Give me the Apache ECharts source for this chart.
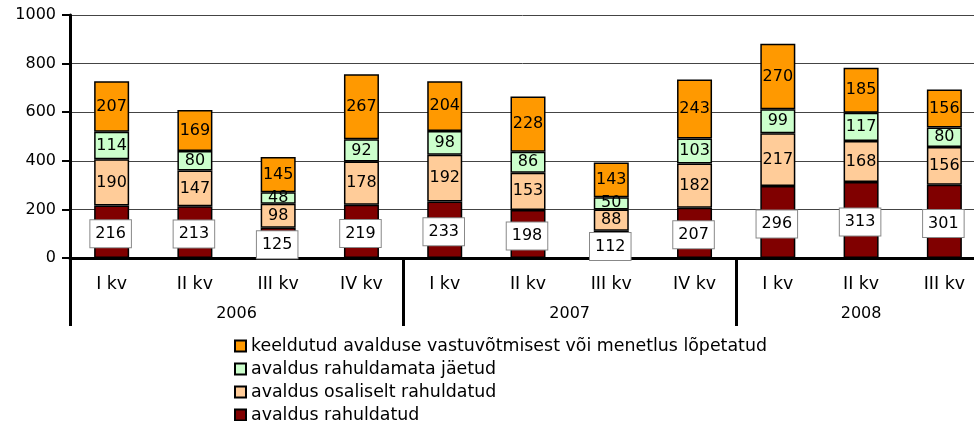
<!DOCTYPE html>
<html>
<head>
<meta charset="utf-8">
<script src="https://cdn.jsdelivr.net/npm/echarts@6/dist/echarts.min.js"></script>
<style>
    html,body{margin:0;padding:0;background:#fff;}
    #chart{width:974px;height:421px;}
</style>
</head>
<body>
<div id="chart"></div>
<script>
// andmed
var quarters = ['I kv','II kv','III kv','IV kv','I kv','II kv','III kv','IV kv','I kv','II kv','III kv'];
var years = ['2006','2007','2008'];
var yearMid = [2, 6, 9.5];
var yearEdge = [0, 4, 8, 11];
var yTicks = [0, 200, 400, 600, 800, 1000];

var rahuldatud = [216,213,125,219,233,198,112,207,296,313,301];
var osaliselt = [190,147,98,178,192,153,88,182,217,168,156];
var rahuldamata = [114,80,48,92,98,86,50,103,99,117,80];
var keeldutud = [207,169,145,267,204,228,143,243,270,185,156];

var names = [
    'avaldus rahuldatud',
    'avaldus osaliselt rahuldatud',
    'avaldus rahuldamata jäetud',
    'keeldutud avalduse vastuvõtmisest või menetlus lõpetatud'
];
var colors = ['#800000','#FFCC99','#CCFFCC','#FF9900'];

var font = 'DejaVu Sans';
var fsNum = 16;   // numbrid
var fsText = 17.4; // tekst

function bar (name, data, color, boxed){
    let label = {
        show:true,
        position:'inside',
        color:'#000',
        fontFamily:font,
        fontSize:fsNum
    };
    if(boxed){
        label.backgroundColor = '#fff';
        label.borderColor = '#888';
        label.borderWidth = 1;
        label.padding = [6,5,5,5];
        label.offset = [-1,2];
    }
    return {
        name:name,
        type:'bar',
        stack:'k',
        data:data,
        barWidth:35,
        silent:true,
        itemStyle:{
            color:color,
            borderColor:'#000',
            borderWidth:1.5
        },
        label:label
    };
}

var myChart = echarts.init(document.getElementById('chart'));
var option = {
    animation:false,
    textStyle:{fontFamily:font},
    grid:{left:70,right:-12,top:15,bottom:163,outerBoundsMode:'none'},
    legend:{
        orient:'vertical',
        left:234,
        top:337,
        height:100,
        padding:0,
        itemWidth:11,
        itemHeight:11,
        itemGap:5,
        icon:'rect',
        data:[names[3],names[2],names[1],names[0]],
        textStyle:{fontFamily:font,fontSize:fsText,color:'#000',lineHeight:18}
    },
    xAxis:[
        {
            type:'category',
            data:quarters,
            axisLine:{lineStyle:{color:'#000',width:3}},
            axisTick:{interval:0,length:35,lineStyle:{color:'#000',width:3}},
            axisLabel:{interval:0,margin:18,color:'#000',fontSize:fsText,fontFamily:font}
        },
        {
            type:'value',
            min:0,
            max:11,
            position:'bottom',
            axisLine:{show:false},
            splitLine:{show:false},
            axisTick:{show:true,customValues:yearEdge,length:68,lineStyle:{color:'#000',width:3}},
            axisLabel:{
                customValues:yearMid,
                margin:48,
                color:'#000',
                fontSize:fsNum,
                fontFamily:font,
                formatter:function(v){ return years[yearMid.indexOf(v)]; }
            }
        }
    ],
    yAxis:{
        type:'value',
        min:0,
        max:1000,
        interval:200,
        axisLine:{show:true,lineStyle:{color:'#000',width:3}},
        axisTick:{show:true,length:8,lineStyle:{color:'#000',width:2}},
        axisLabel:{
            margin:14,
            color:'#000',
            fontSize:fsNum,
            fontFamily:font,
            formatter:function(v){ return yTicks.indexOf(v) >= 0 ? String(v) : ''; }
        },
        splitLine:{lineStyle:{color:'#444',width:1}}
    },
    series:[
        bar(names[0], rahuldatud, colors[0], true),
        bar(names[1], osaliselt, colors[1], false),
        bar(names[2], rahuldamata, colors[2], false),
        bar(names[3], keeldutud, colors[3], false)
    ]
};
myChart.setOption(option);
</script>
</body>
</html>
